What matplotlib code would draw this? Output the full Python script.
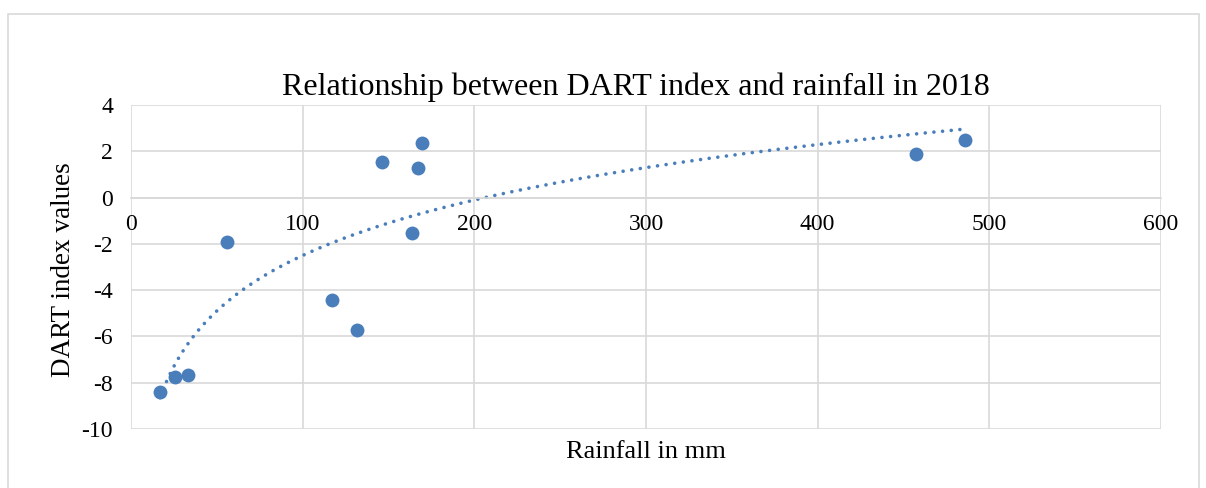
import numpy as np
import matplotlib.pyplot as plt
from matplotlib.patches import Rectangle

plt.rc('font', family='Liberation Serif')
plt.rc('axes', unicode_minus=False)

rainfall = [16.9, 25.6, 33.2, 55.9, 117.0, 131.6, 146.2, 163.7, 167.2, 169.5, 457.0, 485.7]
dart = [-8.40, -7.75, -7.67, -1.92, -4.43, -5.72, 1.54, -1.53, 1.28, 2.36, 1.88, 2.49]

xticks = [0, 100, 200, 300, 400, 500, 600]
yticks = [4, 2, 0, -2, -4, -6, -8, -10]

blue = '#4a7ebb'
grid = '#d9d9d9'

fig = plt.figure(figsize=(12.06, 4.88), dpi=100)
fig.patches.append(Rectangle((8/1206, -0.05), 1191/1206, 1 - 14/488 + 0.05,
                             transform=fig.transFigure, fill=False,
                             edgecolor=grid, linewidth=1.2))

ax = fig.add_axes([131/1206, 1 - 429/488, 1030/1206, 324/488])

# log trendline (least squares on ln x)
x = np.array(rainfall)
y = np.array(dart)
a, b = np.polyfit(np.log(x), y, 1)
xt = np.linspace(x.min(), x.max(), 400)
ax.plot(xt, a * np.log(xt) + b, color=blue, linestyle=(0, (0.01, 2.4)),
        linewidth=2.6, dash_capstyle='round', zorder=2)

ax.scatter(rainfall, dart, s=100, color=blue, zorder=3, linewidths=0)

ax.set_xlim(0, 600)
ax.set_ylim(-10, 4)
ax.set_xticks(xticks)
ax.set_yticks(yticks)
ax.grid(True, color=grid, linewidth=1.2)
ax.set_axisbelow(True)

for s in ['top', 'right', 'left']:
    ax.spines[s].set_visible(False)
ax.spines['bottom'].set_position(('data', 0))
ax.spines['bottom'].set_color(grid)
ax.spines['bottom'].set_linewidth(1.2)
ax.tick_params(length=0, labelsize=17)
ax.tick_params(axis='y', pad=13)
ax.tick_params(axis='x', pad=12)

fig.text(636/1206, 1 - 95/488, 'Relationship between DART index and rainfall in 2018',
         fontsize=23, ha='center', va='baseline')
fig.text(646/1206, 1 - 452/488, 'Rainfall in mm', fontsize=19, ha='center', va='center')
fig.text(64/1206, 1 - 270/488, 'DART index values', fontsize=19.5, ha='center', va='center',
         rotation=90)

fig.savefig('out.png', dpi=100)
